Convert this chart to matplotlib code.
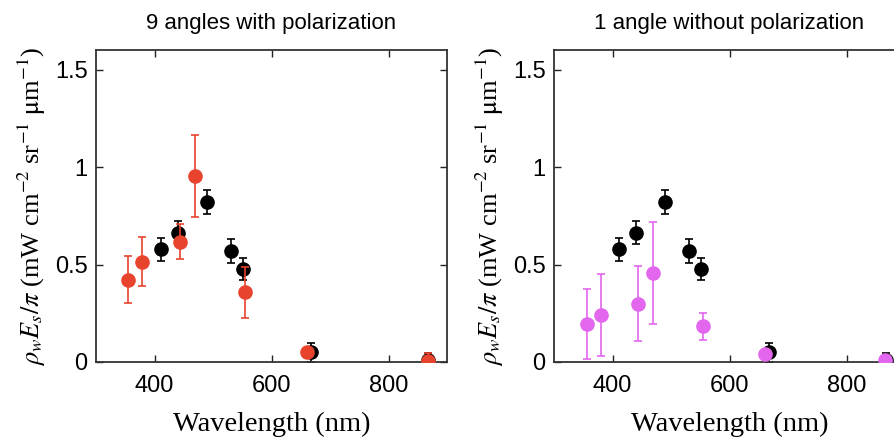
import matplotlib
matplotlib.use("Agg")
import matplotlib.pyplot as plt
import numpy as np

# ---- data ----
wl_black = [411, 441, 490, 531, 551, 667, 867]
val_black = [0.577, 0.664, 0.821, 0.568, 0.476, 0.050, 0.008]
err_black = [0.060, 0.060, 0.063, 0.062, 0.058, 0.050, 0.040]

wl_red = [354, 378, 444, 470, 554, 660, 867]
val_red = [0.423, 0.514, 0.616, 0.954, 0.357, 0.053, 0.007]
err_red = [0.122, 0.125, 0.090, 0.210, 0.132, 0.010, 0.040]

wl_mag = [356, 380, 444, 470, 555, 660, 865]
val_mag = [0.195, 0.239, 0.300, 0.457, 0.183, 0.039, 0.010]
err_mag = [0.180, 0.210, 0.190, 0.260, 0.068, 0.010, 0.010]

titles = ["9 angles with polarization", "1 angle without polarization"]
xticks = [400, 600, 800]
yticks = [0, 0.5, 1, 1.5]
ytick_labels = ["0", "0.5", "1", "1.5"]

RED = "#e8432d"
MAG = "#e266ee"

plt.rcParams['mathtext.fontset'] = 'stix'

fig = plt.figure(figsize=(8.94, 4.37), dpi=100)
W, H = 894, 437
ax_w = 351 / W
ax_h = (362 - 50) / H
ax1 = fig.add_axes([96 / W, 1 - 362 / H, ax_w, ax_h])
ax2 = fig.add_axes([554 / W, 1 - 362 / H, ax_w, ax_h])

def draw(ax, wl, val, err, color):
    ax.errorbar(wl_black, val_black, yerr=err_black, fmt='o', color='black',
                ms=9.5, capsize=3, elinewidth=1.2, capthick=1.2, zorder=2)
    ax.errorbar(wl, val, yerr=err, fmt='o', color=color, mec=color, mfc=color,
                ms=9.5, capsize=3, elinewidth=1.2, capthick=1.2, zorder=3)

draw(ax1, wl_red, val_red, err_red, RED)
draw(ax2, wl_mag, val_mag, err_mag, MAG)

ylabel = r'$\rho_w E_s/\pi$ (mW cm$^{-2}$ sr$^{-1}$ $\mathrm{\mu}$m$^{-1}$)'
for ax, t in zip((ax1, ax2), titles):
    ax.set_xlim(300, 900)
    ax.set_ylim(0, 1.6)
    ax.set_xticks(xticks)
    ax.set_xticklabels([str(v) for v in xticks], family='Liberation Sans', fontsize=17)
    ax.set_yticks(yticks)
    ax.set_yticklabels(ytick_labels, family='Liberation Sans', fontsize=17)
    ax.tick_params(direction='in', length=5, width=1.0, top=True, right=True,
                   colors='#222222', labelcolor='black')
    ax.tick_params(axis='x', pad=9)
    ax.tick_params(axis='y', pad=6)
    for s in ax.spines.values():
        s.set_linewidth(1.3)
        s.set_color('#333333')
    ax.set_title(t, family='Liberation Sans', fontsize=16, pad=15)
    ax.set_xlabel('Wavelength (nm)', family='Liberation Serif', fontsize=20.5, labelpad=11)
    ax.set_ylabel(ylabel, family='Liberation Serif', fontsize=19, labelpad=5)

fig.savefig('out.png', dpi=100)
